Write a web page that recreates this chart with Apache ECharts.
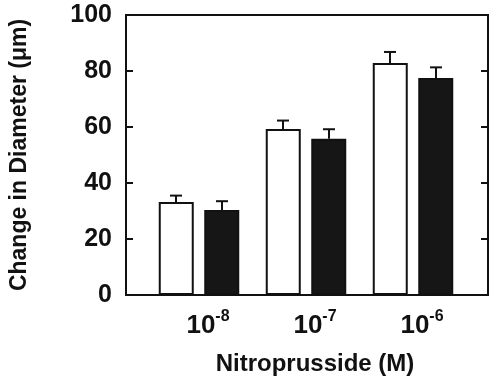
<!DOCTYPE html>
<html><head><meta charset="utf-8">
<script src="https://cdn.jsdelivr.net/npm/echarts@6/dist/echarts.min.js"></script>
<style>html,body{margin:0;padding:0;background:#fff}#c{width:496px;height:385px}</style>
</head><body><div id="c"></div>
<script>
var categories = ['-8', '-7', '-6'];
var controlValues = [33.2, 59.3, 82.9];
var controlErrors = [2.3, 3.0, 3.9];
var treatedValues = [30.4, 55.8, 77.5];
var treatedErrors = [3.1, 3.4, 3.8];
var yTicks = [0, 20, 40, 60, 80, 100];

var FONT = 'Liberation Sans, Arial, Helvetica, sans-serif';
var INK = '#111';
var BAR_OFFSET = 23;

function errItem(values, errors, sign) {
  return values.map(function (v, i) { return [i, v, v + errors[i], sign]; });
}

function renderErr(params, api) {
  var i = api.value(0), v = api.value(1), hi = api.value(2), s = api.value(3);
  var p0 = api.coord([i, v]);
  var p1 = api.coord([i, hi]);
  var x = p0[0] + s * BAR_OFFSET;
  return {
    type: 'group',
    children: [
      { type: 'line', shape: { x1: x, y1: p0[1], x2: x, y2: p1[1] }, style: { stroke: INK, lineWidth: 2 } },
      { type: 'line', shape: { x1: x - 6, y1: p1[1], x2: x + 6, y2: p1[1] }, style: { stroke: INK, lineWidth: 2 } }
    ]
  };
}

var chart = echarts.init(document.getElementById('c'), null, { renderer: 'canvas' });
chart.setOption({
  animation: false,
  backgroundColor: '#fff',
  grid: [
    { left: 123, right: 8, top: 15, bottom: 90, show: true, borderColor: INK, borderWidth: 2, backgroundColor: 'transparent' },
    { left: 145.5, right: 29.5, top: 15, bottom: 90 }
  ],
  xAxis: [
    { gridIndex: 0, type: 'value', min: 0, max: 1, axisLine: { show: false }, axisTick: { show: false }, axisLabel: { show: false }, splitLine: { show: false } },
    {
      gridIndex: 1, type: 'category', data: categories,
      axisLine: { show: false }, axisTick: { show: false }, splitLine: { show: false },
      axisLabel: {
        margin: 14,
        padding: [0, 0, 0, 18],
        formatter: function (v) { return '{b|10}{s|' + v + '}'; },
        rich: {
          b: { fontFamily: FONT, fontWeight: 'bold', fontSize: 26, color: INK, verticalAlign: 'bottom', lineHeight: 30 },
          s: { fontFamily: FONT, fontWeight: 'bold', fontSize: 16, color: INK, verticalAlign: 'top', lineHeight: 30, padding: [0, 0, 10, 0] }
        }
      },
      name: 'Nitroprusside (M)', nameLocation: 'middle', nameGap: 57,
      nameTextStyle: { fontFamily: FONT, fontWeight: 'bold', fontSize: 24, color: INK, padding: [0, 0, 0, 18] }
    }
  ],
  yAxis: [
    {
      gridIndex: 0, type: 'value', min: 0, max: 100, interval: 20,
      axisLine: { show: false },
      axisTick: { show: true, inside: true, length: 7, lineStyle: { color: INK, width: 2 } },
      splitLine: { show: false },
      axisLabel: {
        margin: 14, fontFamily: FONT, fontWeight: 'bold', fontSize: 25, color: INK,
        formatter: function (v) { return yTicks.indexOf(v) >= 0 ? String(v) : ''; }
      },
      name: 'Change in Diameter (\u03bcm)', nameLocation: 'middle', nameGap: 95,
      nameTextStyle: { fontFamily: FONT, fontWeight: 'bold', fontSize: 23, color: INK, padding: [0, 0, 0, 0] }
    },
    {
      gridIndex: 0, type: 'value', min: 0, max: 100, interval: 20, position: 'right',
      axisLine: { show: false },
      axisTick: { show: true, inside: true, length: 7, lineStyle: { color: INK, width: 2 } },
      axisLabel: { show: false }, splitLine: { show: false }
    },
    { gridIndex: 1, type: 'value', min: 0, max: 100, show: false }
  ],
  series: [
    {
      type: 'bar', xAxisIndex: 1, yAxisIndex: 2, data: controlValues,
      barWidth: 35, barGap: '30%',
      itemStyle: { color: '#fff', borderColor: INK, borderWidth: 2 }
    },
    {
      type: 'bar', xAxisIndex: 1, yAxisIndex: 2, data: treatedValues,
      barWidth: 35, barGap: '30%',
      itemStyle: { color: '#161616', borderColor: INK, borderWidth: 2 }
    },
    {
      type: 'custom', xAxisIndex: 1, yAxisIndex: 2, data: errItem(controlValues, controlErrors, -1),
      renderItem: renderErr, z: 1
    },
    {
      type: 'custom', xAxisIndex: 1, yAxisIndex: 2, data: errItem(treatedValues, treatedErrors, 1),
      renderItem: renderErr, z: 1
    }
  ]
});
</script>
</body></html>
